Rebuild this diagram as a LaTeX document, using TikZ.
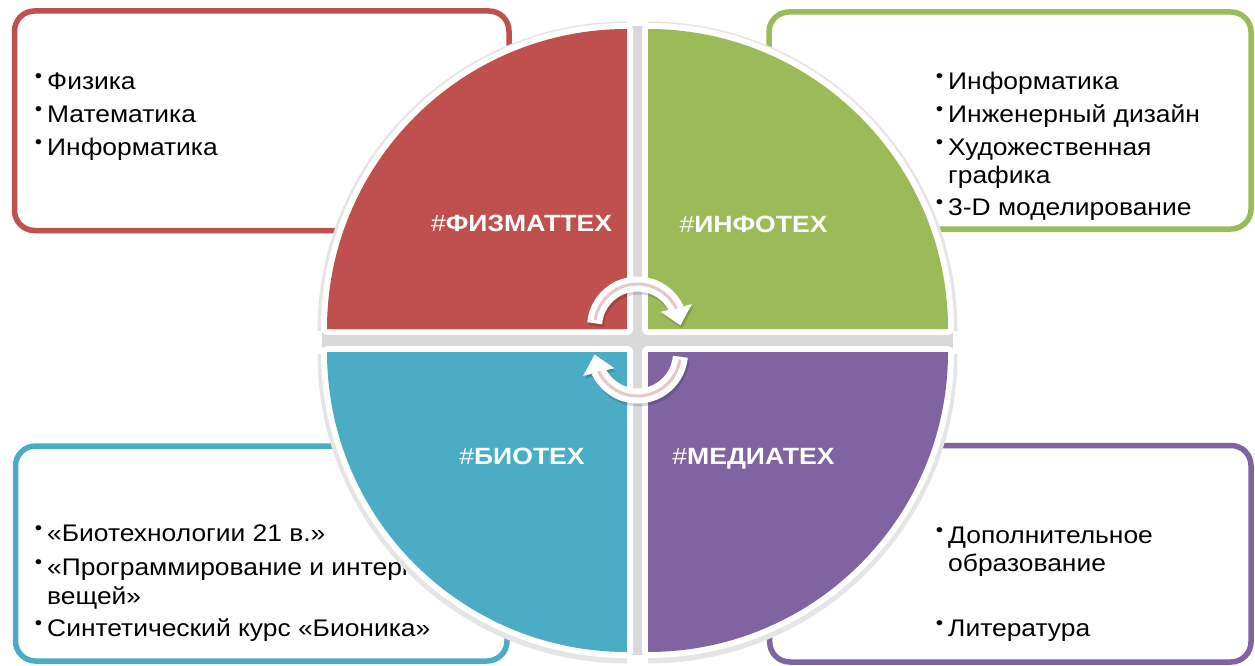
\documentclass[tikz,border=0pt]{standalone}
\usepackage{fontspec}
\setmainfont{Liberation Sans}[FakeStretch=1.1]
\newfontfamily\lblfont{Liberation Sans}[FakeStretch=1.13]
\usetikzlibrary{arrows.meta,bending}
\definecolor{cred}{HTML}{C0504D}
\definecolor{cgreen}{HTML}{9BBB59}
\definecolor{cblue}{HTML}{4BACC6}
\definecolor{cpurple}{HTML}{8064A2}
\definecolor{cpink}{RGB}{229,200,197}
\newcommand\bul{\llap{\raisebox{7pt}{\fontsize{19}{19}\selectfont •}\hspace{5pt}}}
\begin{document}
\begin{tikzpicture}[x=1pt,y=-1pt,
  box/.style={draw=#1, line width=5.5pt, fill=white, rounded corners=20pt,
    inner sep=0pt, shape=rectangle},
  item/.style={anchor=base west, inner sep=0pt, text=black,
    font=\fontsize{24}{28}\selectfont},
  lbl/.style={anchor=base, inner sep=0pt, text=white,
    font=\lblfont\bfseries\fontsize{23.5}{23.5}\selectfont},
  qshadow/.style={draw=black!10, line width=19pt},
  qborder/.style={draw=white, line width=12pt, line join=round},
  arrband/.style={draw=white, line width=15pt, -{Triangle[width=31pt,length=18pt]}},
  arrshadow/.style={draw=black, opacity=0.15, line width=15pt, -{Triangle[width=31pt,length=18pt]}},
  arrpink/.style={draw=cpink, line width=3pt}
]
\fill[white] (0,0) rectangle (1255,666);
\useasboundingbox (0,0) rectangle (1255,666);

% boxes
\node[box=cred, minimum width=494.5pt, minimum height=219.5pt] (boxR) at (261.75,120.75) {};
\node[box=cgreen, minimum width=482pt, minimum height=217pt] (boxG) at (1010,120.5) {};
\node[box=cblue, minimum width=491.5pt, minimum height=215pt] (boxB) at (261.25,553.5) {};
\node[box=cpurple, minimum width=481.3pt, minimum height=216.5pt] (boxP) at (1010.35,553.75) {};

% box texts
\node[item] (r1) at (47,90) {\bul Физика};
\node[item] (r2) at (47,122.5) {\bul Математика};
\node[item] (r3) at (47,155) {\bul Информатика};

\node[item] (g1) at (948,90) {\bul Информатика};
\node[item] (g2) at (948,122.5) {\bul Инженерный дизайн};
\node[item] (g3) at (948,155) {\bul Художественная};
\node[item] (g3b) at (948,183) {графика};
\node[item] (g4) at (948,215) {\bul 3-D моделирование};

\node[item] (b1) at (47,541.7) {\bul «Биотехнологии 21 в.»};
\node[item] (b2) at (47,575) {\bul «Программирование и интернет};
\node[item] (b2b) at (47,604) {вещей»};
\node[item] (b3) at (47,636.7) {\bul Синтетический курс «Бионика»};

\node[item] (p1) at (948,543) {\bul Дополнительное};
\node[item] (p1b) at (948,571.7) {образование};
\node[item] (p2) at (948,636.7) {\bul Литература};

% quadrant centres
\coordinate (cR) at (627,329);
\coordinate (cG) at (648,329);
\coordinate (cB) at (627,352);
\coordinate (cP) at (648,352);

% shadows
\fill[black!15] (627,26) rectangle (648,655);
\fill[black!15] (322,329) rectangle (953,352);
\draw[qshadow] ([shift={(0,2)}]cR) ++(-300,0) arc[start angle=180,end angle=270,radius=300];
\draw[qshadow] ([shift={(0,2)}]cG) ++(0,-300) arc[start angle=270,end angle=360,radius=300];
\draw[qshadow] ([shift={(0,2)}]cB) ++(-300,0) arc[start angle=180,end angle=90,radius=300];
\draw[qshadow] ([shift={(0,2)}]cP) ++(300,0) arc[start angle=0,end angle=90,radius=300];

% white borders
\draw[qborder] (cR) -- ++(-300,0) arc[start angle=180,end angle=270,radius=300] -- cycle;
\draw[qborder] (cG) -- ++(0,-300) arc[start angle=270,end angle=360,radius=300] -- cycle;
\draw[qborder] (cB) -- ++(-300,0) arc[start angle=180,end angle=90,radius=300] -- cycle;
\draw[qborder] (cP) -- ++(300,0) arc[start angle=0,end angle=90,radius=300] -- cycle;

% fills
\fill[cred] (cR) -- ++(-300,0) arc[start angle=180,end angle=270,radius=300] -- cycle;
\fill[cgreen] (cG) -- ++(0,-300) arc[start angle=270,end angle=360,radius=300] -- cycle;
\fill[cblue] (cB) -- ++(-300,0) arc[start angle=180,end angle=90,radius=300] -- cycle;
\fill[cpurple] (cP) -- ++(300,0) arc[start angle=0,end angle=90,radius=300] -- cycle;

% labels
\node[lbl] (lR) at (521.5,231.7) {{\mdseries\#}ФИЗМАТТЕХ};
\node[lbl] (lG) at (753.5,232) {{\mdseries\#}ИНФОТЕХ};
\node[lbl] (lB) at (522,464) {{\mdseries\#}БИОТЕХ};
\node[lbl] (lP) at (753.5,464) {{\mdseries\#}МЕДИАТЕХ};

% cycle arrows
\coordinate (ua) at (637.5,327);
\coordinate (la) at (637.5,353);
\draw[arrshadow] ([shift={(1.5,3)}]ua) ++(185:43) arc[start angle=185,end angle=358,radius=43];
\draw[arrshadow] ([shift={(1.5,3)}]la) ++(5:43) arc[start angle=5,end angle=178,radius=43];
\draw[arrband] (ua) ++(185:43) arc[start angle=185,end angle=358,radius=43];
\draw[arrband] (la) ++(5:43) arc[start angle=5,end angle=178,radius=43];
\draw[arrpink] (ua) ++(189:43) arc[start angle=189,end angle=335,radius=43];
\draw[arrpink] (la) ++(9:43) arc[start angle=9,end angle=155,radius=43];
\end{tikzpicture}
\end{document}
